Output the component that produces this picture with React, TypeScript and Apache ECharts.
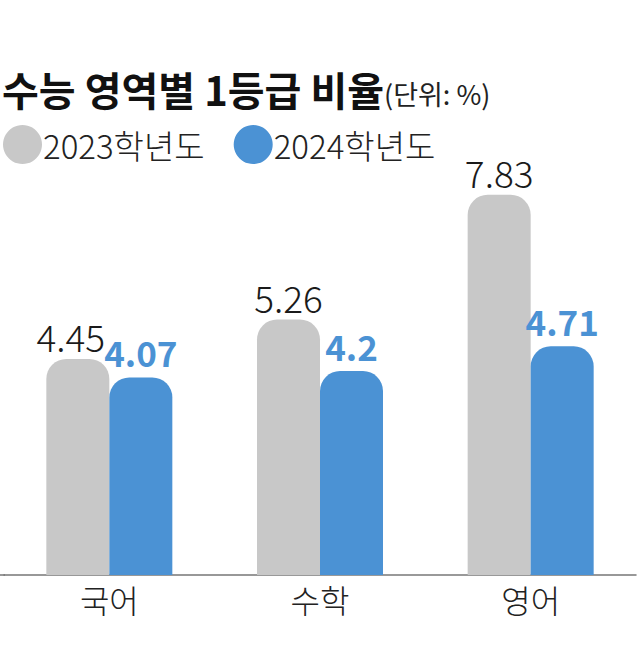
import React, { useEffect, useRef } from "react";
import * as echarts from "echarts";

const categories = ["국어", "수학", "영어"];
const series2023 = [4.45, 5.26, 7.83];
const series2024 = [4.07, 4.2, 4.71];
const legendNames = ["2023학년도", "2024학년도"];

const FONT = "'Noto Sans CJK KR', 'Noto Sans', sans-serif";

export default function App() {
  const ref = useRef<HTMLDivElement>(null);
  useEffect(() => {
    if (!ref.current) return;
    const chart = echarts.init(ref.current, undefined, { renderer: "svg" });
    chart.setOption({
      animation: false,
      backgroundColor: "#ffffff",
      textStyle: { fontFamily: FONT },
      title: {
        left: 2,
        top: 59,
        padding: 0,
        text: "{a|수능 영역별 1등급 비율}{b|(단위: %)}",
        textStyle: {
          rich: {
            a: { fontSize: 40, fontWeight: "bold", color: "#111", fontFamily: FONT, lineHeight: 50, verticalAlign: "bottom" },
            b: { fontSize: 27, fontWeight: "normal", color: "#222", fontFamily: FONT, lineHeight: 50, verticalAlign: "bottom", padding: [0, 0, 2, 0] },
          },
        },
      },
      legend: {
        left: 3,
        top: 125,
        padding: 0,
        itemWidth: 39,
        itemHeight: 39,
        itemGap: 29,
        icon: "circle",
        data: legendNames,
        textStyle: { fontSize: 33, fontWeight: 300, color: "#222", fontFamily: FONT, padding: [0, 0, 0, -4] },
      },
      grid: { left: 4, right: 4, top: 138, bottom: 79, containLabel: false },
      xAxis: {
        type: "category",
        data: categories,
        axisLine: { show: true, lineStyle: { color: "#777", width: 1.5 } },
        axisTick: { show: false },
        axisLabel: { fontSize: 32, fontWeight: 300, color: "#222", margin: 8, fontFamily: FONT },
      },
      yAxis: {
        type: "value",
        min: 0,
        max: 9,
        show: false,
        splitLine: { show: false },
      },
      series: [
        {
          name: legendNames[0],
          type: "bar",
          data: series2023.map((v, i) => (i === 0 ? { value: v, label: { offset: [-7, 0] } } : v)),
          barWidth: 63,
          barGap: "0%",
          itemStyle: { color: "#c8c8c8", borderRadius: [20, 20, 0, 0] },
          label: {
            show: true,
            position: "top",
            distance: 4,
            fontSize: 37,
            fontWeight: 300,
            color: "#1a1a1a",
            fontFamily: FONT,
            formatter: (p: any) => String(p.value),
          },
        },
        {
          name: legendNames[1],
          type: "bar",
          data: series2024,
          barWidth: 63,
          barGap: "0%",
          itemStyle: { color: "#4b92d4", borderRadius: [20, 20, 0, 0] },
          label: {
            show: true,
            position: "top",
            distance: 8,
            fontSize: 35,
            fontWeight: "bold",
            color: "#4b92d4",
            fontFamily: FONT,
            formatter: (p: any) => String(p.value),
          },
        },
      ],
      graphic: [
        {
          type: "line",
          shape: { x1: 0, y1: 575, x2: 5, y2: 575 },
          style: { stroke: "#777", lineWidth: 1.5 },
        },
      ],
    });
    return () => chart.dispose();
  }, []);
  return (
    <div
      ref={ref}
      style={{ position: "fixed", left: 0, top: 0, width: 640, height: 654, background: "#fff" }}
    />
  );
}
